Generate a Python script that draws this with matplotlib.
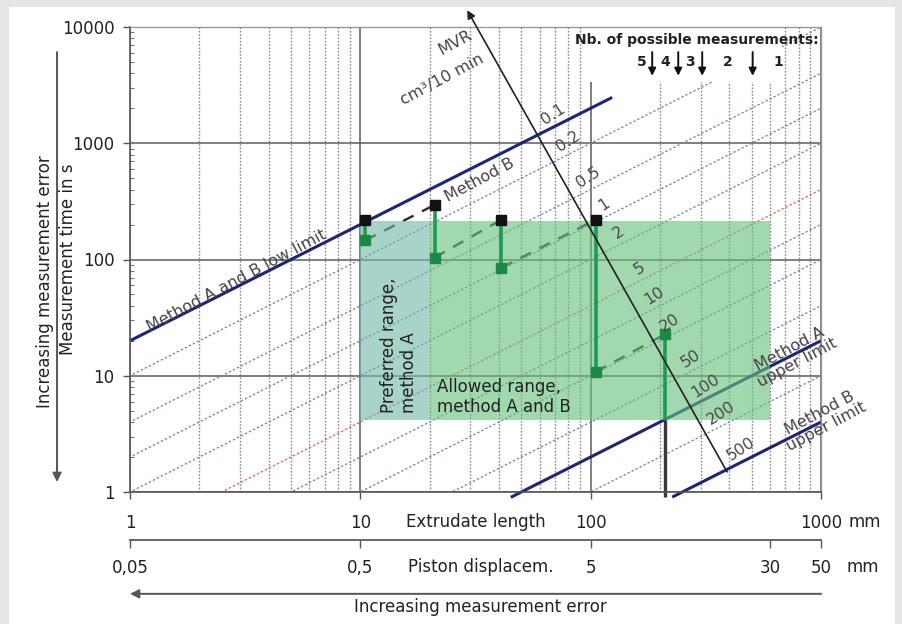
import numpy as np
import matplotlib
matplotlib.use("Agg")
import matplotlib.pyplot as plt
from matplotlib.patches import Rectangle
from matplotlib.ticker import NullLocator, FixedLocator

plt.rcParams['font.family'] = ['DejaVu Sans']

# ---- data ----
# MVR lines: t = K * L / MVR  (t in s, L extrudate length in mm)
K = 2.0
mvr_values = [0.1, 0.2, 0.5, 1, 2, 5, 10, 20, 50, 100, 200, 500]
mvr_labels = ['0.1', '0.2', '0.5', '1', '2', '5', '10', '20', '50', '100', '200', '500']
mvr_dotted = [0.2, 0.5, 1, 2, 5, 10, 20, 50, 200]
mvr_red = 5

# solid limit lines (MVR value, L range)
low_limit_mvr, low_limit_L = 0.1, [1, 124]
method_a_mvr, method_a_L = 100, [45, 1000]
method_b_mvr, method_b_L = 500, [226, 1000]

# MVR scale arrow (start, end) in data coords
mvr_axis_L = [391, 29.1]
mvr_axis_t = [1.49, 13960]

# ranges
allowed_L = [20, 600]
preferred_L = [10, 20]
range_t = [4.2, 215]

# example measurement steps
bar_L = [10.5, 21, 41, 105, 210]
bar_top = [218, 295, 220, 220, 22.7]
bar_bottom = [146, 104, 85, 10.8, 1.0]

# number of possible measurements thresholds (extrudate length)
nb_thresholds = [185, 240, 305, 505]
nb_labels = ['5', '4', '3', '2', '1']

x_ticks = [1, 10, 100, 1000]
x_ticklabels = ['1', '10', '100', '1000']
y_ticks = [1, 10, 100, 1000, 10000]
y_ticklabels = ['1', '10', '100', '1000', '10000']
piston_ticks = [0.05, 0.5, 5, 30, 50]
piston_labels = ['0,05', '0,5', '5', '30', '50']
piston_ratio = 20.0

# ---- figure ----
fig = plt.figure(figsize=(9.02, 6.24), dpi=100, facecolor='#e4e6e8')
fig.add_artist(Rectangle((9/902, 0), 886/902, 1 - 7/624, transform=fig.transFigure,
                         facecolor='white', edgecolor='none', zorder=-10))

ax = fig.add_axes([130/902, 1 - 492/624, 691/902, 465/624])
ax.set_facecolor('white')
ax.set_xscale('log')
ax.set_yscale('log')
ax.set_xlim(1, 1000)
ax.set_ylim(1, 10000)
ax.set_axisbelow(True)

ax.grid(which='major', color='#5c5c5c', lw=1.1, ls='-')
ax.grid(which='minor', axis='x', color='#8a8a8a', lw=1.0, ls=(0, (1.2, 1.2)))

ax.set_xticks(x_ticks, x_ticklabels)
ax.set_yticks(y_ticks, y_ticklabels)
ax.tick_params(axis='x', which='major', length=5, width=1, color='#555', pad=11,
               labelsize=12, labelcolor='#222')
ax.tick_params(axis='x', which='minor', length=0)
ax.tick_params(axis='y', which='major', length=5, width=1, color='#555', pad=6,
               labelsize=12, labelcolor='#222')
ax.tick_params(axis='y', which='minor', direction='in', length=3, width=0.8, color='#777')
for side in ['left', 'bottom']:
    ax.spines[side].set_color('#555')
    ax.spines[side].set_linewidth(1.2)
for side in ['top', 'right']:
    ax.spines[side].set_color('#999')
    ax.spines[side].set_linewidth(1.0)

# dotted MVR lines
L_full = np.array([0.5, 2000])
for m in mvr_dotted:
    col = '#e06464' if m == mvr_red else '#7380cc'
    ax.plot(L_full, K / m * L_full, color=col, lw=0.95, ls=(0, (1.8, 1.6)), zorder=1.5)

# solid limit lines
for m, Lr in [(low_limit_mvr, low_limit_L), (method_a_mvr, method_a_L), (method_b_mvr, method_b_L)]:
    Lr = np.array(Lr, dtype=float)
    ax.plot(Lr, K / m * Lr, color='#1e2577', lw=2.2, zorder=2, clip_on=False,
            solid_capstyle='butt')

# dashed connectors between steps (under the boxes, get tinted)
for i in range(len(bar_L) - 1):
    ax.plot([bar_L[i], bar_L[i + 1]], [bar_bottom[i], bar_top[i + 1]],
            color='#2a2a2a', lw=1.7, ls=(0, (5, 4)), zorder=2)

# dark part of step bars below the range box
for L, tp, bt in zip(bar_L, bar_top, bar_bottom):
    if bt < range_t[0]:
        ax.plot([L, L], [bt * 0.9, min(tp, range_t[0])], color='#3a3a3a', lw=2.4,
                zorder=2, clip_on=False, solid_capstyle='butt')

# ranges
ax.add_patch(Rectangle((allowed_L[0], range_t[0]), allowed_L[1] - allowed_L[0],
                       range_t[1] - range_t[0], facecolor='#6ac07d', alpha=0.62,
                       edgecolor='none', zorder=3))
ax.add_patch(Rectangle((preferred_L[0], range_t[0]), preferred_L[1] - preferred_L[0],
                       range_t[1] - range_t[0], facecolor='#72b8a8', alpha=0.62,
                       edgecolor='none', zorder=3))

# step bars
for L, tp, bt in zip(bar_L, bar_top, bar_bottom):
    ax.plot([L, L], [max(bt, range_t[0]), tp], color='#1f9a52', lw=2.6, zorder=4,
            solid_capstyle='butt')
    top_col = '#111111' if tp >= range_t[1] * 0.95 else '#1b8a47'
    ax.plot(L, tp, marker='s', ms=6.5, color=top_col, zorder=5, clip_on=False)
    if bt > 1.0:
        ax.plot(L, bt, marker='s', ms=6.5, color='#1b8a47', zorder=5)

# MVR scale arrow
ax.annotate('', xy=(mvr_axis_L[1], mvr_axis_t[1]), xytext=(mvr_axis_L[0], mvr_axis_t[0]),
            arrowprops=dict(arrowstyle='-|>', color='#222', lw=1.2, mutation_scale=12,
                            shrinkA=0, shrinkB=0),
            zorder=6, annotation_clip=False)

# MVR value labels at the intersections
x0, y0 = np.log10(mvr_axis_L[0]), np.log10(mvr_axis_t[0])
x1, y1 = np.log10(mvr_axis_L[1]), np.log10(mvr_axis_t[1])
slope = (y1 - y0) / (x1 - x0)
for m, lab in zip(mvr_values, mvr_labels):
    lc = np.log10(K / m)
    lx = (y0 - slope * x0 - lc) / (1 - slope)
    ax.annotate(lab, xy=(10**lx, 10**(lc + lx)), xytext=(11, 15), textcoords='offset points',
                ha='center', va='center', rotation=33, fontsize=11.5, color='#4a4a4a',
                zorder=7)

ax.text(25.8, 7280, 'MVR', rotation=28, ha='center', va='center', fontsize=11.5,
        color='#444', zorder=7)
ax.text(22.6, 3500, 'cm³/10 min', rotation=28, ha='center', va='center', fontsize=11.5,
        color='#444', zorder=7)

# line labels
ax.text(2.9, 66, 'Method A and B low limit', rotation=28, ha='center', va='center',
        fontsize=11.5, color='#444', zorder=7)
ax.text(33, 480, 'Method B', rotation=28, ha='center', va='center',
        fontsize=11.5, color='#444', zorder=7)
ax.text(760, 14.8, 'Method A\nupper limit', rotation=28, ha='center', va='center',
        fontsize=11.5, color='#444', zorder=7, linespacing=1.0)
ax.text(1020, 4.16, 'Method B\nupper limit', rotation=28, ha='center', va='center',
        fontsize=11.5, color='#444', zorder=7, linespacing=1.0)
ax.text(14.7, 18.4, 'Preferred range,\nmethod A', rotation=90, ha='center', va='center',
        multialignment='left', fontsize=12, color='#222', zorder=7, linespacing=1.1)
ax.text(21.5, 6.6, 'Allowed range,\nmethod A and B', ha='left', va='center',
        fontsize=12, color='#222', zorder=7, linespacing=1.15)

# number of possible measurements
ax.add_patch(Rectangle((0.658, 0.882), 0.286, 0.118, transform=ax.transAxes,
                       facecolor='white', edgecolor='none', zorder=2.5))
ax.text(0.996, 0.972, 'Nb. of possible measurements:', transform=ax.transAxes,
        ha='right', va='center', fontsize=10, fontweight='bold', color='#222', zorder=7)
for Lth in nb_thresholds:
    ax.annotate('', xy=(Lth, 0.895), xytext=(Lth, 0.946),
                xycoords=('data', 'axes fraction'), textcoords=('data', 'axes fraction'),
                arrowprops=dict(arrowstyle='-|>', color='#111', lw=1.4, mutation_scale=11,
                                shrinkA=0, shrinkB=0), zorder=7)
lth = np.log10(nb_thresholds)
nb_pos = [lth[0] - 0.045] + list((lth[:-1] + lth[1:]) / 2) + [lth[-1] + 0.11]
for p, lab in zip(nb_pos, nb_labels):
    ax.text(10**p, 0.925, lab, transform=ax.get_xaxis_transform(), ha='center',
            va='center', fontsize=10, fontweight='bold', color='#222', zorder=7)

# x axis annotations
ax.text(0.5, -0.0645, 'Extrudate length', transform=ax.transAxes, ha='center',
        va='center', fontsize=12, color='#222')
ax.text(1.064, -0.0645, 'mm', transform=ax.transAxes, ha='center', va='center',
        fontsize=12, color='#222')

sec = ax.secondary_xaxis(-0.103, functions=(lambda x: x / piston_ratio,
                                            lambda x: x * piston_ratio))
sec.xaxis.set_major_locator(FixedLocator(piston_ticks))
sec.set_xticks(piston_ticks, piston_labels)
sec.xaxis.set_minor_locator(NullLocator())
sec.tick_params(axis='x', length=6, width=1, color='#555', pad=8, labelsize=12,
                labelcolor='#222')
sec.spines['bottom'].set_color('#666')
sec.spines['bottom'].set_linewidth(1.4)
ax.text(0.507, -0.161, 'Piston displacem.', transform=ax.transAxes, ha='center',
        va='center', fontsize=12, color='#222')
ax.text(1.061, -0.161, 'mm', transform=ax.transAxes, ha='center', va='center',
        fontsize=12, color='#222')

ax.annotate('', xy=(0.0, -0.219), xytext=(1.0, -0.219), xycoords='axes fraction',
            arrowprops=dict(arrowstyle='-|>', color='#555', lw=1.4, mutation_scale=13,
                            shrinkA=0, shrinkB=0), annotation_clip=False)
ax.text(0.5065, -0.247, 'Increasing measurement error', transform=ax.transAxes,
        ha='center', va='center', fontsize=12, color='#222')

# y axis annotations
ax.annotate('', xy=(-0.1056, 0.0215), xytext=(-0.1056, 0.946), xycoords='axes fraction',
            arrowprops=dict(arrowstyle='-|>', color='#555', lw=1.4, mutation_scale=13,
                            shrinkA=0, shrinkB=0), annotation_clip=False)
ax.text(-0.0897, 0.5, 'Measurement time in s', transform=ax.transAxes, rotation=90,
        ha='center', va='center', fontsize=12, color='#222')
ax.text(-0.123, 0.452, 'Increasing measurement error', transform=ax.transAxes,
        rotation=90, ha='center', va='center', fontsize=12, color='#222')

fig.savefig('out.png', dpi=100, facecolor=fig.get_facecolor())
